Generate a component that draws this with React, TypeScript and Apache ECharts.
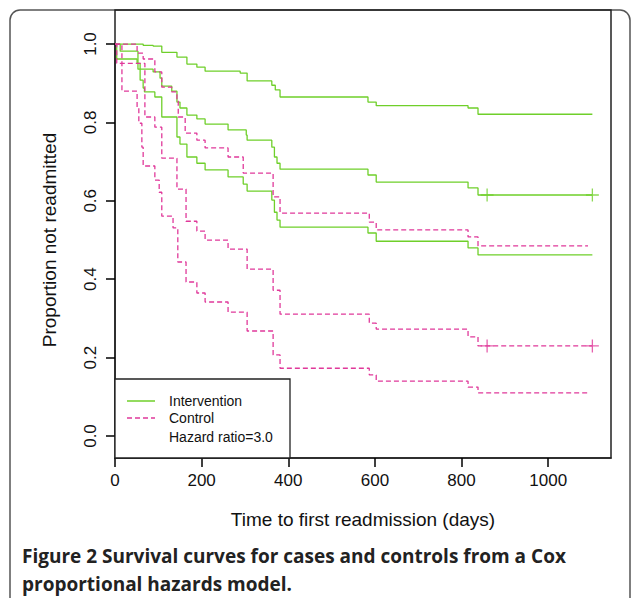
import React, { useEffect, useRef } from "react";
import * as echarts from "echarts";

const greenTop: [number, number][] = [[0,1],[65,0.997],[88,0.995],[108,0.979],[143,0.967],[166,0.949],[189,0.941],[208,0.931],[289,0.926],[305,0.906],[362,0.895],[370,0.883],[381,0.865],[584,0.852],[603,0.843],[815,0.837],[838,0.821],[1102,0.821]];
const greenMid: [number, number][] = [[0,1],[12,0.982],[53,0.936],[88,0.929],[104,0.913],[108,0.893],[131,0.88],[143,0.852],[150,0.837],[166,0.819],[189,0.809],[208,0.796],[261,0.781],[303,0.768],[305,0.755],[362,0.737],[368,0.712],[374,0.696],[381,0.681],[584,0.666],[603,0.648],[815,0.633],[838,0.615],[1102,0.615]];
const greenLow: [number, number][] = [[0,1],[4,0.962],[51,0.951],[58,0.908],[65,0.888],[68,0.878],[92,0.865],[108,0.814],[143,0.763],[150,0.745],[166,0.712],[189,0.696],[208,0.679],[261,0.661],[296,0.643],[305,0.625],[362,0.602],[368,0.571],[374,0.551],[381,0.533],[584,0.518],[603,0.497],[815,0.48],[838,0.462],[1102,0.462]];
const pinkTop: [number, number][] = [[0,1],[51,0.977],[65,0.962],[92,0.929],[108,0.89],[131,0.878],[143,0.857],[146,0.814],[162,0.773],[189,0.755],[208,0.735],[261,0.712],[296,0.671],[365,0.61],[381,0.569],[587,0.546],[603,0.526],[815,0.508],[838,0.485],[1092,0.485]];
const pinkMid: [number, number][] = [[0,1],[4,0.951],[69,0.814],[92,0.788],[108,0.709],[143,0.63],[164,0.548],[189,0.523],[208,0.5],[261,0.477],[305,0.426],[365,0.372],[381,0.311],[587,0.288],[603,0.273],[815,0.253],[838,0.23],[1102,0.23]];
const pinkLow: [number, number][] = [[0,1],[16,0.88],[51,0.837],[55,0.798],[62,0.737],[65,0.689],[92,0.653],[102,0.622],[108,0.561],[134,0.531],[145,0.444],[164,0.393],[189,0.365],[208,0.342],[261,0.316],[305,0.268],[365,0.207],[381,0.173],[587,0.156],[603,0.14],[815,0.125],[838,0.11],[1092,0.11]];
const greenCensor: [number, number][] = [[859,0.615],[1102,0.615]];
const pinkCensor: [number, number][] = [[859,0.23],[1102,0.23]];

const GREEN = "#6fcf2a";
const PINK = "#e0399a";
const FONT = "Liberation Sans, Arial, sans-serif";

export default function App() {
  const ref = useRef<HTMLDivElement>(null);
  useEffect(() => {
    const chart = echarts.init(ref.current!, null, { renderer: "svg" });
    const line = (d: [number, number][], c: string, dashed: boolean) => ({
      type: "line", step: "end", data: d, showSymbol: false, silent: true,
      lineStyle: { color: c, width: 1.3, type: dashed ? [5, 3] : "solid" },
    });
    const cens = (d: [number, number][], c: string) => ({
      type: "scatter", data: d, symbol: "path://M0,-1V1M-1,0H1", symbolSize: 13,
      itemStyle: { color: "none", borderColor: c, borderWidth: 1.3 },
    });
    const axLine = { show: true, onZero: false, lineStyle: { color: "#222", width: 1.5 } };
    const tick = { show: true, inside: false, length: 9, lineStyle: { color: "#000", width: 1.5 } };
    chart.setOption({
      animation: false,
      grid: [
        { left: 115, right: 23, top: 10, bottom: 140, show: true, borderColor: "#222", borderWidth: 1.5, containLabel: false, outerBoundsMode: "none" },
        { left: 115, right: 23, top: 44, bottom: 162, show: false, containLabel: false, outerBoundsMode: "none" },
      ],
      xAxis: [
        {
          type: "value", gridIndex: 0, min: 0, max: 1145, interval: 200, splitLine: { show: false },
          axisLine: axLine, axisTick: tick,
          axisLabel: { showMaxLabel: false, margin: 14, fontSize: 17, color: "#111", fontFamily: FONT, formatter: (v: number) => String(v) },
          name: "Time to first readmission (days)", nameLocation: "middle", nameGap: 52,
          nameTextStyle: { fontSize: 19, color: "#111", fontFamily: FONT },
        },
        { type: "value", gridIndex: 1, min: 0, max: 1145, show: false },
      ],
      yAxis: [
        { type: "value", gridIndex: 0, min: -0.056, max: 1.087, show: false, splitLine: { show: false } },
        {
          type: "value", gridIndex: 1, min: 0, max: 1, interval: 0.2, splitLine: { show: false },
          axisLine: axLine, axisTick: tick,
          axisLabel: { rotate: 90, margin: 16, fontSize: 17, color: "#111", fontFamily: FONT, formatter: (v: number) => v.toFixed(1) },
          name: "Proportion not readmitted", nameLocation: "middle", nameGap: 56,
          nameTextStyle: { fontSize: 19, color: "#111", fontFamily: FONT },
        },
      ],
      series: [
        line(greenTop, GREEN, false), line(greenMid, GREEN, false), line(greenLow, GREEN, false),
        line(pinkTop, PINK, true), line(pinkMid, PINK, true), line(pinkLow, PINK, true),
        cens(greenCensor, GREEN), cens(pinkCensor, PINK),
      ],
      graphic: [
        { type: "rect", shape: { x: 10, y: 10, width: 620, height: 600, r: 10 }, style: { fill: "none", stroke: "#555", lineWidth: 1.5 }, z: -1 },
        { type: "rect", shape: { x: 115, y: 379, width: 175, height: 79 }, style: { fill: "#fff", stroke: "#222", lineWidth: 1.3 }, z: 10 },
        { type: "line", shape: { x1: 127, y1: 401, x2: 155, y2: 401 }, style: { stroke: GREEN, lineWidth: 1.5 }, z: 11 },
        { type: "line", shape: { x1: 127, y1: 418, x2: 155, y2: 418 }, style: { stroke: PINK, lineWidth: 1.5, lineDash: [5, 3] }, z: 11 },
        { type: "text", x: 169, y: 401, style: { text: "Intervention", fontSize: 14, fill: "#111", fontFamily: FONT, verticalAlign: "middle" }, z: 11 },
        { type: "text", x: 169, y: 418, style: { text: "Control", fontSize: 14, fill: "#111", fontFamily: FONT, verticalAlign: "middle" }, z: 11 },
        { type: "text", x: 169, y: 437, style: { text: "Hazard ratio=3.0", fontSize: 14, fill: "#111", fontFamily: FONT, verticalAlign: "middle" }, z: 11 },
        { type: "text", x: 22, y: 556, style: { text: "Figure 2 Survival curves for cases and controls from a Cox", fontSize: 19, fontWeight: "bold", fill: "#222", fontFamily: "Open Sans", verticalAlign: "middle" } },
        { type: "text", x: 22, y: 584, style: { text: "proportional hazards model.", fontSize: 19, fontWeight: "bold", fill: "#222", fontFamily: "Open Sans", verticalAlign: "middle" } },
      ],
    });
    return () => chart.dispose();
  }, []);
  return <div ref={ref} style={{ width: 634, height: 598, position: "absolute", left: 0, top: 0, background: "#fff" }} />;
}
